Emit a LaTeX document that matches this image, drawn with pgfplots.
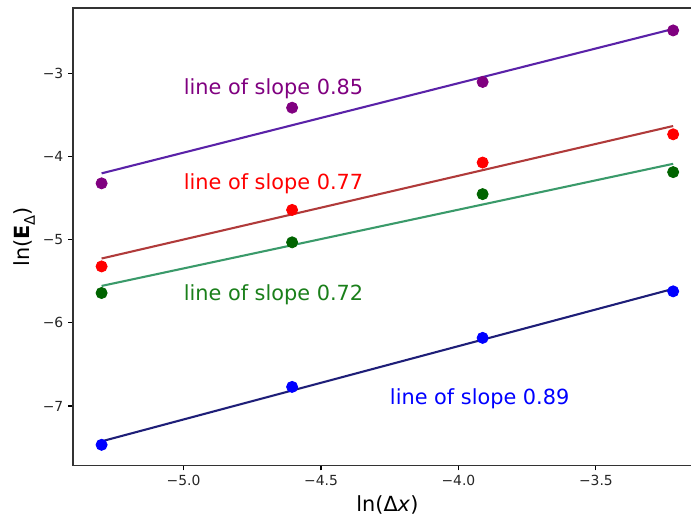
\documentclass[border=0pt]{standalone}
\usepackage{pgfplots}
\pgfplotsset{compat=1.18}
\usepackage{fontspec}
\setmainfont{DejaVu Sans}
\definecolor{cpurple}{HTML}{800080}
\definecolor{cred}{HTML}{FF0000}
\definecolor{cgreen}{HTML}{006400}
\definecolor{tgreen}{HTML}{1A7F1A}
\definecolor{cblue}{HTML}{0000FF}
\definecolor{lpurple}{HTML}{5A22A8}
\definecolor{lred}{HTML}{B03A3A}
\definecolor{lgreen}{HTML}{3A9A6A}
\definecolor{lblue}{HTML}{1E1E78}
\begin{document}
\begin{tikzpicture}
\path[use as bounding box] (-52.56pt,-37.8pt) rectangle (444.96pt,335.16pt);
\clip (-52.56pt,-37.8pt) rectangle (444.96pt,335.16pt);
\begin{axis}[
  at={(0pt,0pt)}, anchor=south west,
  scale only axis, width=452.7pt, height=329.4pt,
  xmin=-5.402, xmax=-3.115, ymin=-7.716, ymax=-2.21,
  xtick={-5,-4.5,-4,-3.5},
  xticklabels={−5.0,−4.5,−4.0,−3.5},
  ytick={-7,-6,-5,-4,-3},
  yticklabels={−7,−6,−5,−4,−3},
  xtick pos=bottom, ytick pos=left,
  tick align=outside, major tick length=3.5pt,
  minor tick num=0,
  tick style={black, line width=0.8pt},
  axis line style={black!80, line width=0.8pt},
  tick label style={font=\fontsize{10}{12}\selectfont, text=black!85},
  xlabel={ln(Δ\textit{x})},
  ylabel={ln(\textbf{E}\raisebox{-0.28em}{\fontsize{10.5}{12}\selectfont Δ})},
  xlabel style={at={(axis description cs:0.5,-0.0645)}, anchor=north, inner sep=0pt, font=\fontsize{15}{18}\selectfont},
  ylabel style={at={(axis description cs:-0.0954,0.5)}, anchor=north, inner sep=0pt, rotate=0, font=\fontsize{15}{18}\selectfont},
]
% data points
\addplot[only marks, mark=*, mark size=4pt, color=cpurple, mark options={line width=0.6pt}] coordinates {
  (-5.298,-4.32) (-4.605,-3.41) (-3.912,-3.10) (-3.219,-2.48)};
\addplot[only marks, mark=*, mark size=4pt, color=cred, mark options={line width=0.6pt}] coordinates {
  (-5.298,-5.32) (-4.605,-4.64) (-3.912,-4.07) (-3.219,-3.73)};
\addplot[only marks, mark=*, mark size=4pt, color=cgreen, mark options={line width=0.6pt}] coordinates {
  (-5.298,-5.64) (-4.605,-5.03) (-3.912,-4.45) (-3.219,-4.185)};
\addplot[only marks, mark=*, mark size=4pt, color=cblue, mark options={line width=0.6pt}] coordinates {
  (-5.298,-7.467) (-4.605,-6.77) (-3.912,-6.18) (-3.219,-5.62)};
% fitted lines
\addplot[no marks, lpurple, line width=1.5pt] coordinates {(-5.298,-4.200) (-3.219,-2.462)};
\addplot[no marks, lred, line width=1.5pt] coordinates {(-5.298,-5.225) (-3.219,-3.630)};
\addplot[no marks, lgreen, line width=1.5pt] coordinates {(-5.298,-5.555) (-3.219,-4.085)};
\addplot[no marks, lblue, line width=1.5pt] coordinates {(-5.298,-7.425) (-3.219,-5.590)};
% annotations
\node[anchor=base west, inner sep=0pt, text=cpurple, font=\fontsize{15}{18}\selectfont] at (axis cs:-5.0,-3.247) {line of slope 0.85};
\node[anchor=base west, inner sep=0pt, text=cred, font=\fontsize{15}{18}\selectfont] at (axis cs:-5.0,-4.398) {line of slope 0.77};
\node[anchor=base west, inner sep=0pt, text=tgreen, font=\fontsize{15}{18}\selectfont] at (axis cs:-5.0,-5.73) {line of slope 0.72};
\node[anchor=base west, inner sep=0pt, text=cblue, font=\fontsize{15}{18}\selectfont] at (axis cs:-4.25,-6.977) {line of slope 0.89};
\end{axis}
\end{tikzpicture}
\end{document}
